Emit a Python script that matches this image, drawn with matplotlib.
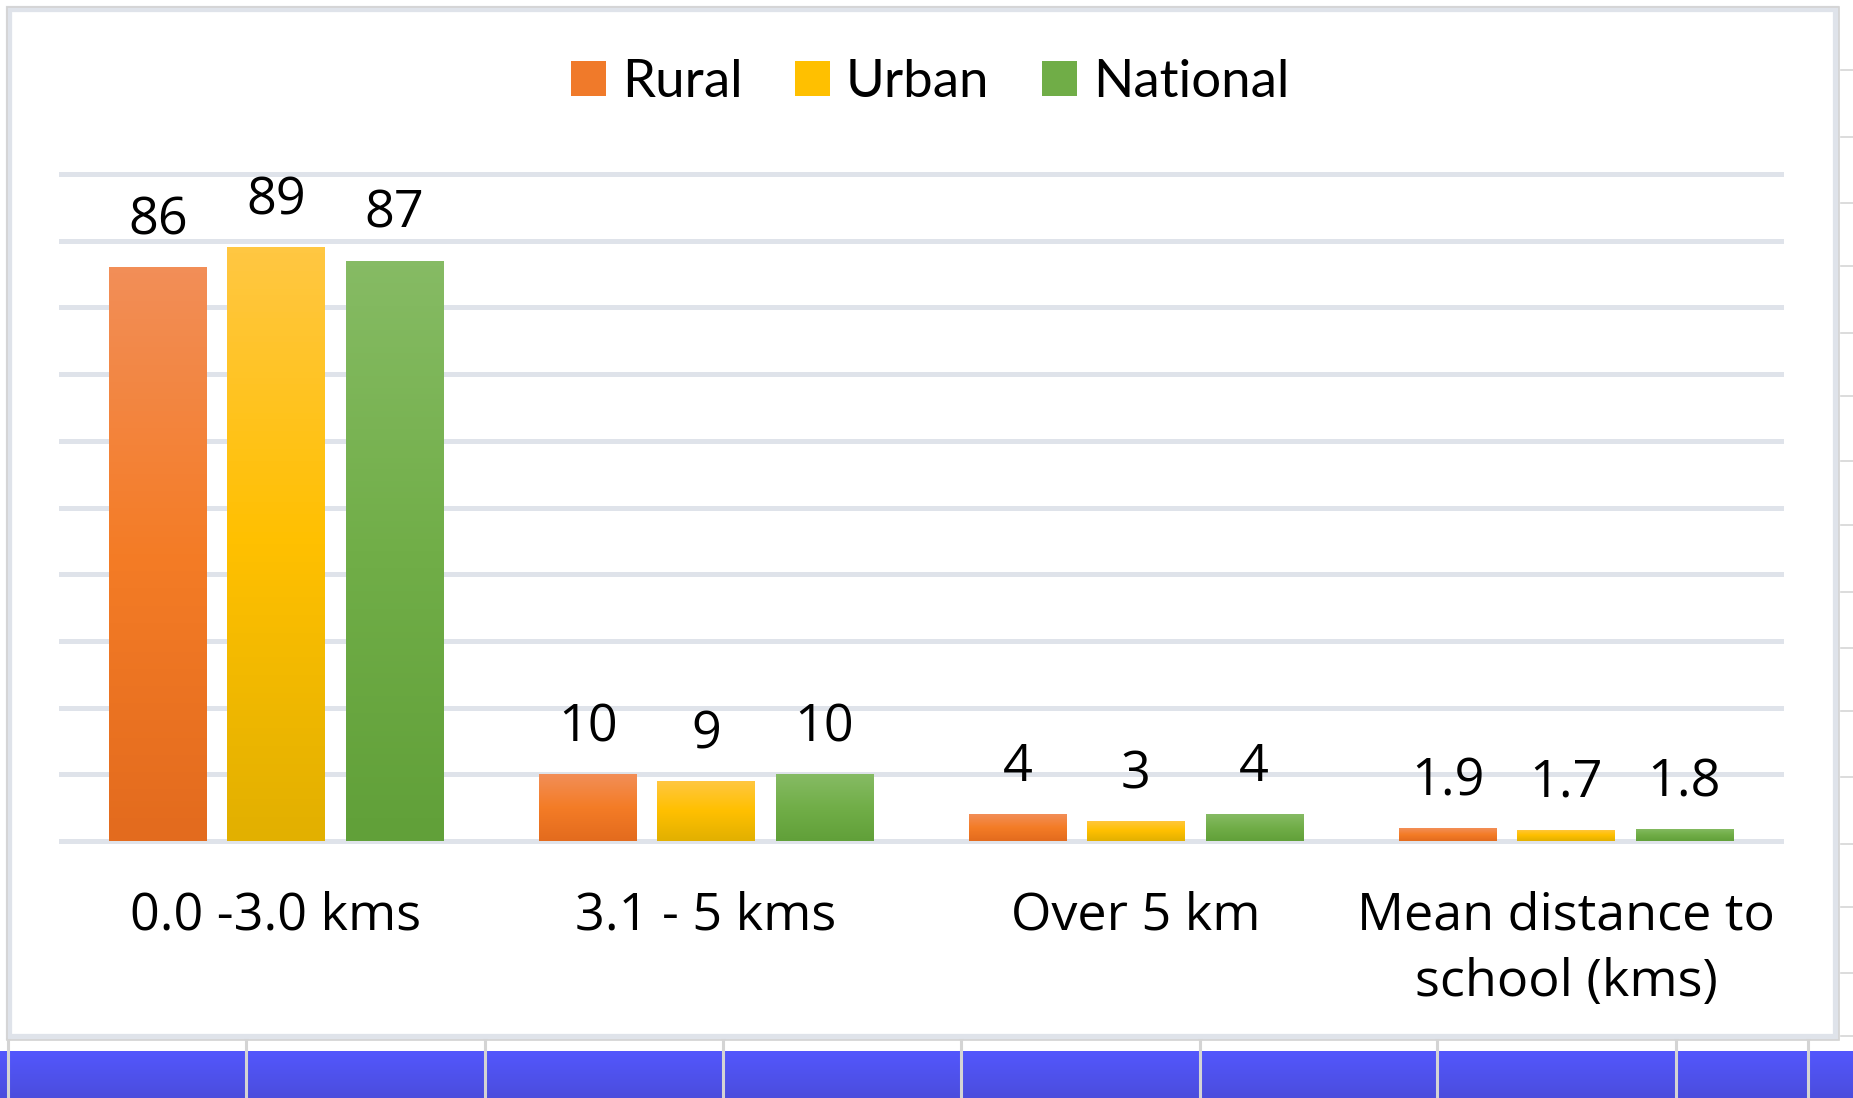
import numpy as np
import matplotlib
matplotlib.use("Agg")
import matplotlib.pyplot as plt
from matplotlib.colors import LinearSegmentedColormap
from matplotlib.patches import Rectangle
from matplotlib.lines import Line2D

# ---------------- data ----------------
categories = ["0.0 -3.0 kms", "3.1 - 5 kms", "Over 5 km", "Mean distance to\nschool (kms)"]
series_names = ["Rural", "Urban", "National"]
rural = [86, 10, 4, 1.9]
urban = [89, 9, 3, 1.7]
national = [87, 10, 4, 1.8]
label_text = [["86", "10", "4", "1.9"], ["89", "9", "3", "1.7"], ["87", "10", "4", "1.8"]]
y_ticks = [0, 10, 20, 30, 40, 50, 60, 70, 80, 90, 100]

# gradient colours (top, middle, bottom)
grads = [
    ["#F28E57", "#F47C26", "#E36B1E"],
    ["#FFC742", "#FFC000", "#E2B000"],
    ["#86BB64", "#71AE48", "#61A039"],
]
solid = ["#F07A2A", "#FFC000", "#70AD47"]

W, H = 1853, 1098
fig = plt.figure(figsize=(W / 100, H / 100), dpi=100, facecolor="white")

def fx(px):
    return px / W

def fy(py):
    return 1 - py / H

# ------------- frame / background decorations -------------
frame = Rectangle((fx(9), fy(1037)), fx(1836) - fx(9), fy(9) - fy(1037),
                  transform=fig.transFigure, facecolor="none",
                  edgecolor="#dfe3ea", linewidth=4.5, zorder=-5)
fig.patches.append(frame)
outer = Rectangle((fx(6.5), fy(1040)), fx(1839) - fx(6.5), fy(6.5) - fy(1040),
                  transform=fig.transFigure, facecolor="none",
                  edgecolor="#d3d3d3", linewidth=1.2, zorder=-5)
fig.patches.append(outer)

# right-hand spreadsheet ticks
for yy in [70, 137, 203, 266, 333, 396, 461, 525, 592, 648, 711, 777, 844, 907, 973, 1036]:
    fig.lines.append(Line2D([fx(1841), fx(1853)], [fy(yy), fy(yy)], transform=fig.transFigure,
                            color="#d6d6d6", linewidth=1.2, zorder=-5))

# blue band
band = fig.add_axes([0, 0, 1, 47 / H])
band.imshow(np.linspace(0, 1, 50).reshape(-1, 1),
            cmap=LinearSegmentedColormap.from_list("b", ["#5357FD", "#4B4DDD"]),
            aspect="auto", extent=[0, 1, 0, 1])
band.set_axis_off()
band.set_zorder(-6)
for xx in [8, 246, 485, 723, 961, 1200, 1437, 1676, 1808]:
    fig.lines.append(Line2D([fx(xx), fx(xx)], [0, fy(1040)], transform=fig.transFigure,
                            color="#d4d4d4", linewidth=2.2, zorder=-4))

# ---------------- main axes ----------------
ax = fig.add_axes([fx(61), fy(841), fx(1781) - fx(61), fy(174) - fy(841)])
ax.set_zorder(2)
ax.set_facecolor("none")
x = np.arange(len(categories))
width = 0.226
step = 0.275
values = [rural, urban, national]
for i, (vals, name) in enumerate(zip(values, series_names)):
    bc = ax.bar(x + (i - 1) * step, vals, width, color=solid[i], label=name, zorder=3)
    cmap = LinearSegmentedColormap.from_list("g%d" % i, grads[i][::-1])
    for p in bc.patches:
        x0, y0 = p.get_x(), p.get_y()
        w, h = p.get_width(), p.get_height()
        im = ax.imshow(np.linspace(0, 1, 100).reshape(-1, 1), cmap=cmap, origin="lower",
                       extent=[x0, x0 + w, y0, y0 + h], aspect="auto", zorder=4)
        im.set_clip_path(p)
    ax.bar_label(bc, labels=label_text[i], padding=15, fontsize=37.5,
                 fontfamily="Open Sans", color="black", zorder=5)

ax.set_xlim(-0.5, 3.5)
ax.set_ylim(0, 100)
ax.set_yticks(y_ticks)
ax.set_yticklabels([])
ax.tick_params(axis="y", length=0)
ax.grid(axis="y", color="#dfe3ea", linewidth=3.6, zorder=0)
ax.set_axisbelow(True)
for gl in ax.get_ygridlines():
    gl.set_clip_on(False)
for s in ax.spines.values():
    s.set_visible(False)
ax.set_xticks(x)
ax.set_xticklabels(categories, fontsize=37.5, fontfamily="Open Sans", linespacing=1.38)
ax.tick_params(axis="x", length=0, pad=36)

# legend
handles = [Rectangle((0, 0), 1, 1, facecolor=solid[i], edgecolor="none") for i in range(3)]
fig.legend(handles, series_names, loc="center", bbox_to_anchor=(0.502, 0.925), ncol=3,
           frameon=False, prop={"family": "Lato", "size": 38},
           handlelength=0.66, handleheight=0.66, handletextpad=0.3, columnspacing=1.0)

fig.savefig("out.png", dpi=100, facecolor="white")
